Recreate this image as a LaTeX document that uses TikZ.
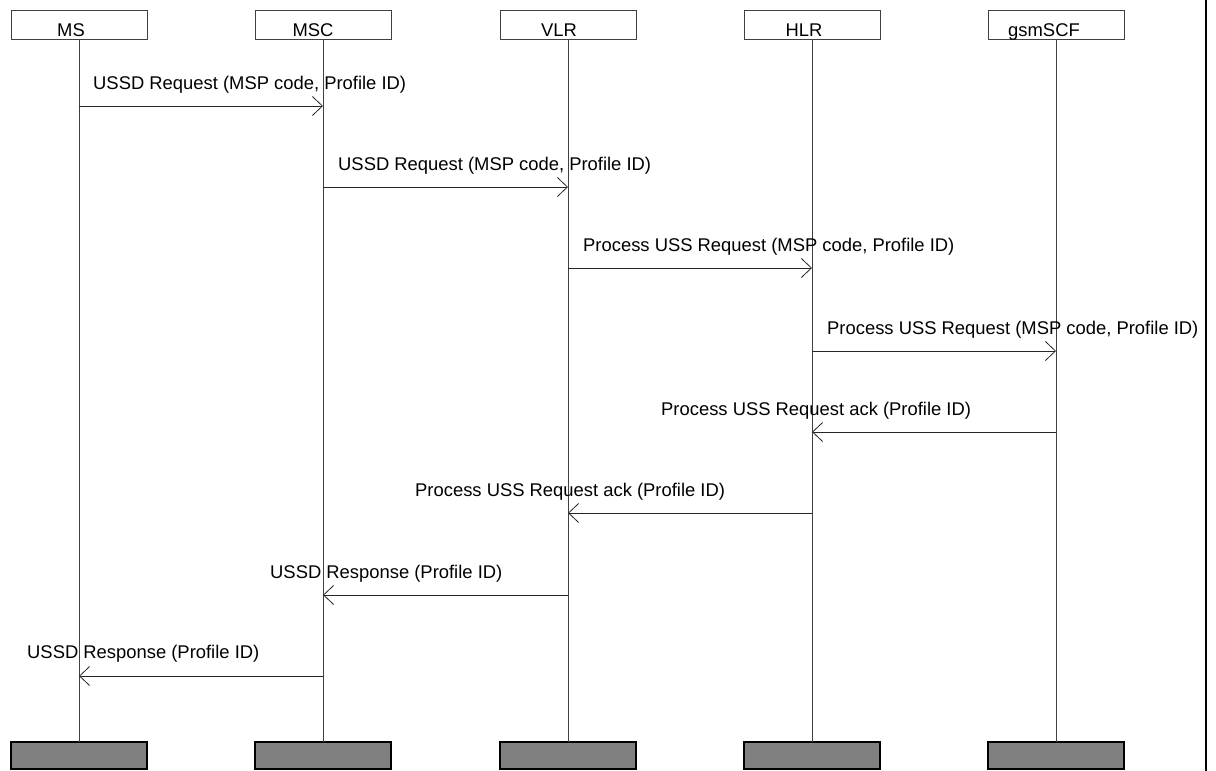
\documentclass[tikz,border=0pt]{standalone}
\usepackage{fontspec}
\setmainfont{Liberation Sans}
\usetikzlibrary{arrows.meta}
\begin{document}
\begin{tikzpicture}[x=1pt,y=-1pt,
  headbox/.style={draw=black!75, line width=0.8pt, minimum width=136pt,
    minimum height=29pt, inner sep=0pt, outer sep=0pt},
  footbox/.style={draw=black, fill=black!50, line width=1.2pt, minimum width=136pt,
    minimum height=27pt, inner sep=0pt, outer sep=0pt},
  entity/.style={anchor=base, inner sep=0pt, font=\fontsize{18.4}{20}\selectfont},
  msgtext/.style={anchor=base west, inner sep=0pt, font=\fontsize{18.4}{20}\selectfont},
  lifeline/.style={draw=black!75, line width=0.8pt},
  msg/.style={draw=black!85, line width=0.8pt, -{Straight Barb[length=10pt,width=19pt]}}]

\useasboundingbox (0,0) rectangle (1216,771);

% entity heads
\node[headbox] (ms)  at (79,24.5)   {};
\node[headbox] (msc) at (323,24.5)  {};
\node[headbox] (vlr) at (568,24.5)  {};
\node[headbox] (hlr) at (812,24.5)  {};
\node[headbox] (scf) at (1056,24.5) {};
\node[entity] (msName)  at (71,36)   {MS};
\node[entity] (mscName) at (313,36)  {MSC};
\node[entity] (vlrName) at (559,36)  {VLR};
\node[entity] (hlrName) at (804,36)  {HLR};
\node[entity] (scfName) at (1044,36) {gsmSCF};

% entity feet
\node[footbox] (msEnd)  at (79,755.5)   {};
\node[footbox] (mscEnd) at (323,755.5)  {};
\node[footbox] (vlrEnd) at (568,755.5)  {};
\node[footbox] (hlrEnd) at (812,755.5)  {};
\node[footbox] (scfEnd) at (1056,755.5) {};

% lifelines
\draw[lifeline] (ms.south)  -- (msEnd.north);
\draw[lifeline] (msc.south) -- (mscEnd.north);
\draw[lifeline] (vlr.south) -- (vlrEnd.north);
\draw[lifeline] (hlr.south) -- (hlrEnd.north);
\draw[lifeline] (scf.south) -- (scfEnd.north);

% message rows
\foreach \n/\y in {1/106,2/187,3/268,4/351,5/432,6/513,7/595,8/676}
  \coordinate (row\n) at (0,\y);

% messages
\draw[msg] (ms |- row1)  -- (msc |- row1);
\node[msgtext] (t1) at (93,89)  {USSD Request (MSP code, Profile ID)};
\draw[msg] (msc |- row2) -- (vlr |- row2);
\node[msgtext] (t2) at (338,170) {USSD Request (MSP code, Profile ID)};
\draw[msg] (vlr |- row3) -- (hlr |- row3);
\node[msgtext] (t3) at (583,251) {Process USS Request (MSP code, Profile ID)};
\draw[msg] (hlr |- row4) -- (scf |- row4);
\node[msgtext] (t4) at (827,334) {Process USS Request (MSP code, Profile ID)};
\draw[msg] (scf |- row5) -- (hlr |- row5);
\node[msgtext] (t5) at (661,415) {Process USS Request ack (Profile ID)};
\draw[msg] (hlr |- row6) -- (vlr |- row6);
\node[msgtext] (t6) at (415,496) {Process USS Request ack (Profile ID)};
\draw[msg] (vlr |- row7) -- (msc |- row7);
\node[msgtext] (t7) at (270,578) {USSD Response (Profile ID)};
\draw[msg] (msc |- row8) -- (ms |- row8);
\node[msgtext] (t8) at (27,658)  {USSD Response (Profile ID)};

% frame edge on the right
\draw[line width=2pt] (1206,0) -- (1206,771);
\end{tikzpicture}
\end{document}
